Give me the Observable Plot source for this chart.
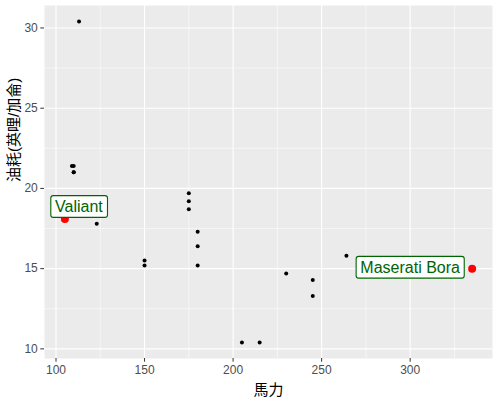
<!DOCTYPE html>
<html>
<head>
<meta charset="utf-8">
<script src="https://cdn.jsdelivr.net/npm/d3@7"></script>
<script src="https://cdn.jsdelivr.net/npm/@observablehq/plot@0.6"></script>
<style>
  html, body { margin: 0; padding: 0; background: #fff; }
  svg { font-family: "Liberation Sans", Arial, "Noto Sans CJK TC", sans-serif; }
</style>
</head>
<body>
<div id="chart"></div>
<script>
const cars = ["Mazda RX4","Mazda RX4 Wag","Hornet 4 Drive","Hornet Sportabout","Valiant","Duster 360","Merc 280","Merc 280C","Merc 450SE","Merc 450SL","Merc 450SLC","Cadillac Fleetwood","Lincoln Continental","Chrysler Imperial","Dodge Challenger","AMC Javelin","Camaro Z28","Pontiac Firebird","Lotus Europa","Ford Pantera L","Ferrari Dino","Maserati Bora","Volvo 142E"];
const hp  = [110,110,110,175,105,245,123,123,180,180,180,205,215,230,150,150,245,175,113,264,175,335,109];
const mpg = [21.0,21.0,21.4,18.7,18.1,14.3,19.2,17.8,16.4,17.3,15.2,10.4,10.4,14.7,15.5,15.2,13.3,19.2,30.4,15.8,19.7,15.0,21.4];
const highlighted = ["Valiant","Maserati Bora"];
const xTicks = [100,150,200,250,300];
const xMinor = [125,175,225,275,325];
const yTicks = [10,15,20,25,30];
const yMinor = [12.5,17.5,22.5,27.5];
const xTitle = "馬力";
const yTitle = "油耗(英哩/加侖)";

const data = cars.map((n,i) => ({name:n, hp:hp[i], mpg:mpg[i]}));
const hi = data.filter(d => highlighted.includes(d.name));
const xr = [d3.min(hp), d3.max(hp)], yr = [d3.min(mpg), d3.max(mpg)];
const xp = (xr[1]-xr[0])*0.05, yp = (yr[1]-yr[0])*0.05;

const plot = Plot.plot({
  width: 499, height: 401,
  marginLeft: 44, marginRight: 7, marginTop: 5, marginBottom: 43,
  style: {fontFamily: "'Liberation Sans', Arial, 'Noto Sans CJK TC', sans-serif", fontSize: "12px", background: "#fff"},
  x: {domain: [xr[0]-xp, xr[1]+xp]},
  y: {domain: [yr[0]-yp, yr[1]+yp]},
  marks: [
    Plot.frame({fill: "#EBEBEB", stroke: null}),
    Plot.ruleX(xMinor, {stroke: "#fff", strokeWidth: 0.55}),
    Plot.ruleY(yMinor, {stroke: "#fff", strokeWidth: 0.55}),
    Plot.ruleX(xTicks, {stroke: "#fff", strokeWidth: 1.1}),
    Plot.ruleY(yTicks, {stroke: "#fff", strokeWidth: 1.1}),
    Plot.axisX({ticks: xTicks, tickSize: 3.7, tickPadding: 3, label: null, className: "ax"}),
    Plot.axisY({ticks: yTicks, tickSize: 3.7, tickPadding: 3, label: null, className: "ax"}),
    Plot.text([xTitle], {frameAnchor: "bottom", dy: 32, lineAnchor: "middle", fontSize: 15, fill: "#000"}),
    Plot.text([yTitle], {frameAnchor: "left", dx: -30, rotate: -90, lineAnchor: "middle", fontSize: 15, fill: "#000"}),
    Plot.dot(data, {x: "hp", y: "mpg", r: 2, fill: "#000", stroke: null}),
    Plot.dot(hi, {x: "hp", y: "mpg", r: 4, fill: "red", stroke: null}),
    Plot.text(hi.filter(d => d.name === "Valiant"), {x: "hp", y: "mpg", text: "name", dx: 14, dy: -12, fontSize: 16, fill: "darkgreen", className: "lbl"}),
    Plot.text(hi.filter(d => d.name === "Maserati Bora"), {x: "hp", y: "mpg", text: "name", dx: -62, dy: -1, fontSize: 16, fill: "darkgreen", className: "lbl"})
  ]
});
document.getElementById("chart").appendChild(plot);

// axis styling (ggplot-like)
plot.querySelectorAll(".ax").forEach(g => {
  g.querySelectorAll("path, line").forEach(p => p.setAttribute("stroke", "#333333"));
  g.querySelectorAll("text").forEach(t => t.setAttribute("fill", "#4D4D4D"));
  g.setAttribute("fill", "#4D4D4D");
});

// label boxes
plot.querySelectorAll(".lbl").forEach(g => {
  g.querySelectorAll("text").forEach(t => {
    const b = t.getBBox();
    const r = document.createElementNS("http://www.w3.org/2000/svg", "rect");
    const px = 4.2, py = 2.4;
    r.setAttribute("x", b.x - px);
    r.setAttribute("y", b.y - py);
    r.setAttribute("width", b.width + 2*px);
    r.setAttribute("height", b.height + 2*py);
    r.setAttribute("rx", 2.5);
    r.setAttribute("fill", "#fff");
    r.setAttribute("stroke", "darkgreen");
    r.setAttribute("stroke-width", 1.1);
    if (t.getAttribute("transform")) r.setAttribute("transform", t.getAttribute("transform"));
    t.parentNode.insertBefore(r, t);
  });
});
</script>
</body>
</html>
